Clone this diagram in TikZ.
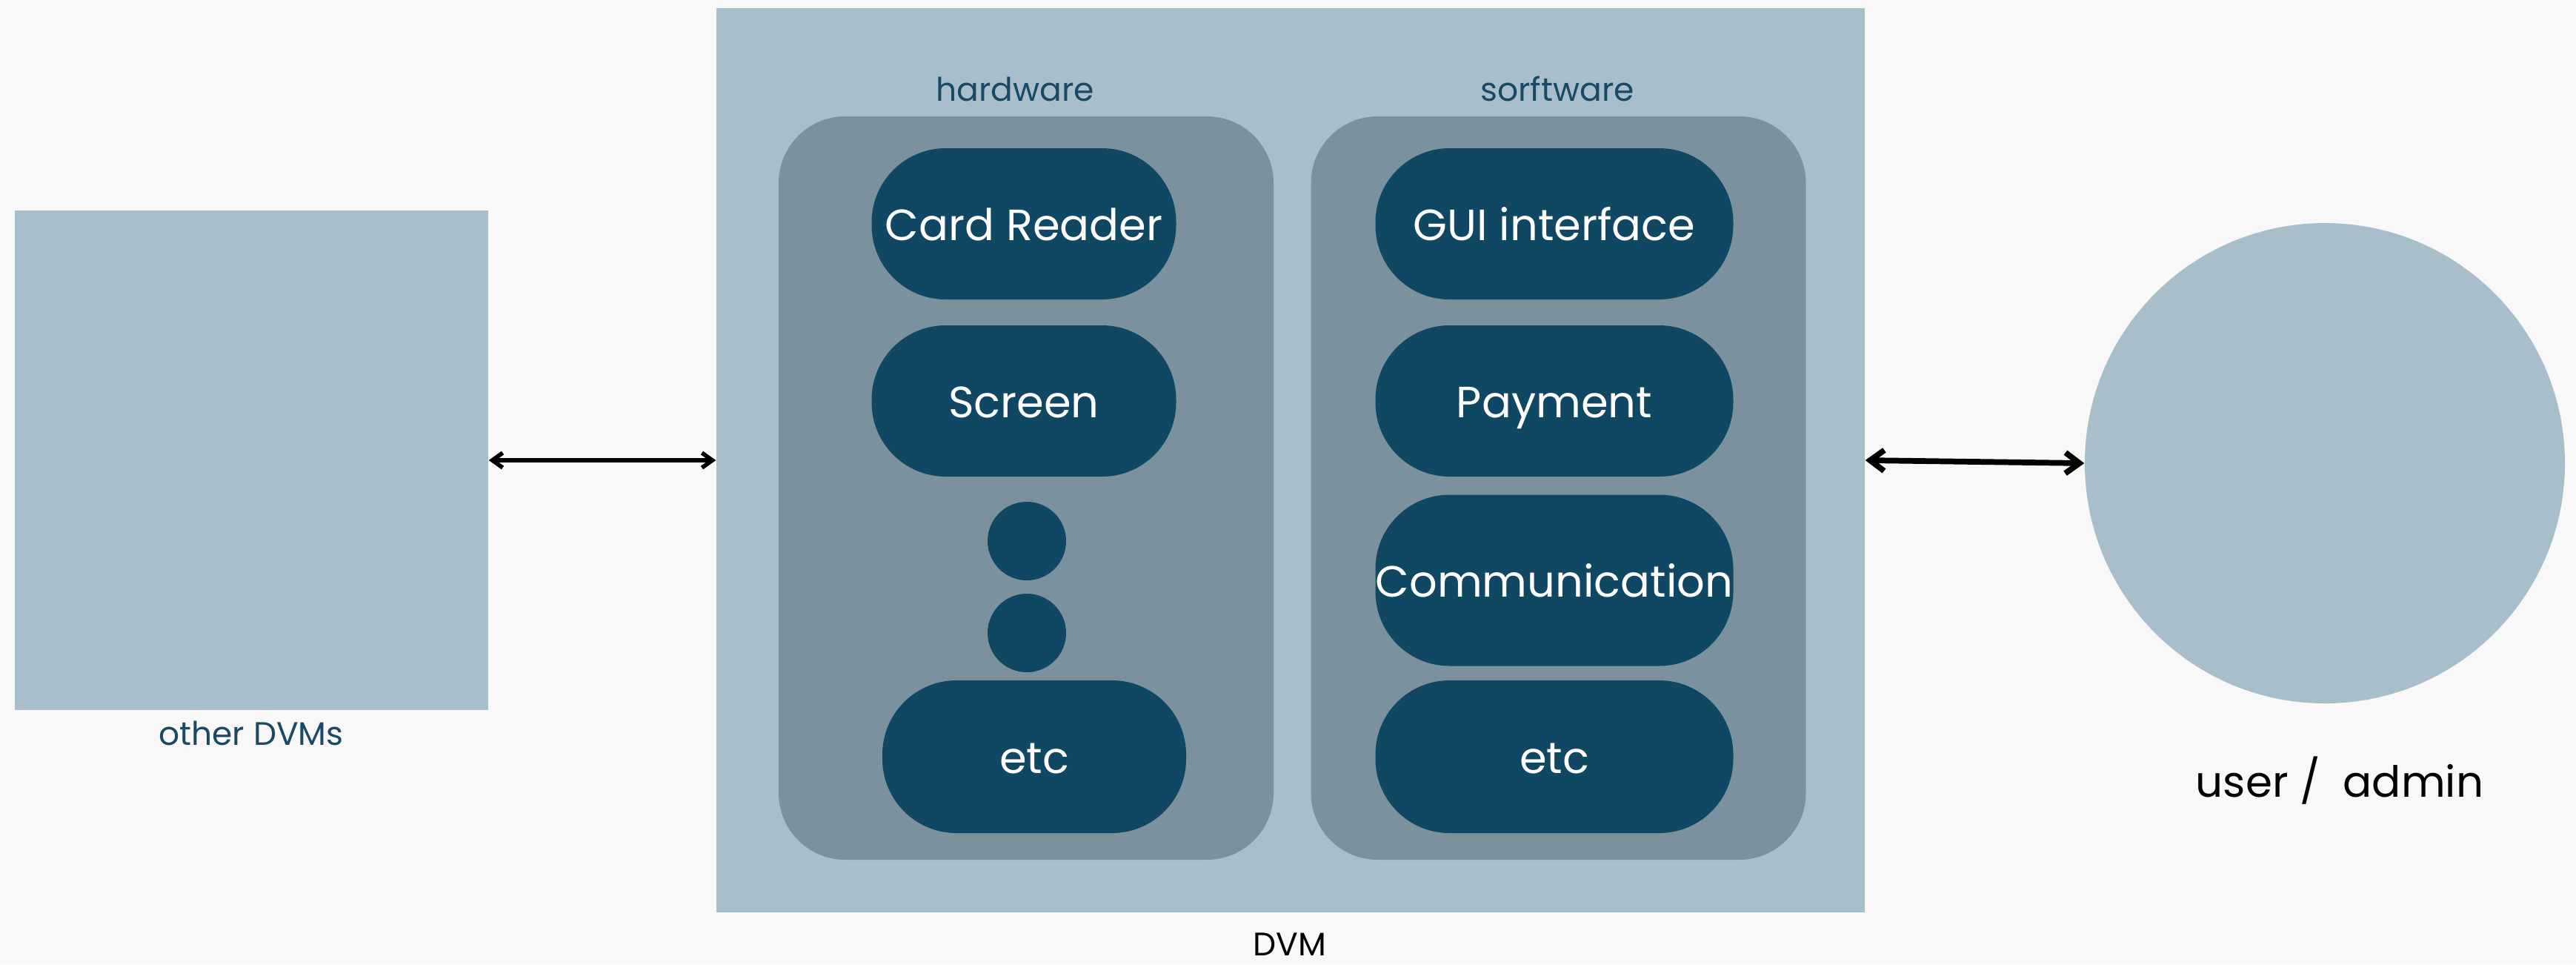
\documentclass[tikz,border=0pt]{standalone}
\usepackage{fontspec}
\setmainfont{Poppins}
\usetikzlibrary{arrows.meta}
\definecolor{bgcol}{HTML}{F8F8F8}
\definecolor{paleblue}{HTML}{A8BECB}
\definecolor{greyblue}{HTML}{7B929E}
\definecolor{navy}{HTML}{104762}
\definecolor{labelblue}{HTML}{1A4A63}
\begin{document}
\begin{tikzpicture}[line join=round, line cap=round,
	box/.style={fill=paleblue, inner sep=0pt},
	panel/.style={fill=greyblue, rounded corners=0.9cm, minimum width=6.68cm, minimum height=10.03cm, inner sep=0pt},
	pill/.style={fill=navy, text=white, rounded corners=1cm, minimum height=2.04cm, inner sep=0pt, text height=1.3em, text depth=0pt, font=\fontsize{16.8}{20}\selectfont},
	dot/.style={circle, fill=navy, minimum size=1.06cm, inner sep=0pt},
	lbl/.style={font=\fontsize{12.5}{15}\selectfont, text=labelblue},
	link/.style={{Straight Barb[length=1.4mm,width=2mm]}-{Straight Barb[length=1.4mm,width=2mm]}, line width=1.6pt},
	biglink/.style={{Straight Barb[length=1.9mm,width=2.8mm]}-{Straight Barb[length=1.9mm,width=2.8mm]}, line width=2.2pt}]
	\fill[bgcol] (0,0) rectangle (34.77,-13.01);
	\useasboundingbox (0,0) rectangle (34.77,-13.01);
	% left block and the vending machine
	\node[box, minimum width=6.39cm, minimum height=6.74cm] (oth) at (3.395,-6.21) {};
	\node[box, minimum width=15.5cm, minimum height=12.2cm] (dvm) at (17.42,-6.21) {};
	\node[panel] (hw) at (13.85,-6.585) {};
	\node[panel] (sw) at (21.035,-6.585) {};
	% hardware side
	\node[pill, minimum width=4.11cm] (card) at (13.82,-3.02) {Card Reader};
	\node[pill, minimum width=4.11cm] (scr) at (13.82,-5.41) {Screen};
	\node[dot] (dota) at (13.86,-7.30) {};
	\node[dot] (dotb) at (13.86,-8.54) {};
	\node[pill, minimum width=4.10cm, minimum height=2.06cm] (hwetc) at (13.96,-10.21) {etc};
	% software side
	\node[pill, minimum width=4.83cm] (gui) at (20.98,-3.02) {GUI interface};
	\node[pill, minimum width=4.83cm] (pay) at (20.98,-5.41) {Payment};
	\node[pill, minimum width=4.83cm, minimum height=2.31cm] (com) at (20.98,-7.83) {Communication};
	\node[pill, minimum width=4.83cm, minimum height=2.06cm] (swetc) at (20.98,-10.21) {etc};
	% user
	\node[circle, fill=paleblue, minimum size=6.48cm, inner sep=0pt] (usr) at (31.38,-6.25) {};
	\path
	(3.39,-9.89) node[lbl] (othlbl) {other DVMs}
	(13.70,-1.20) node[lbl] (hwlbl) {hardware}
	(21.02,-1.20) node[lbl] (swlbl) {sorftware}
	(17.41,-12.74) node[lbl, text=black] (dvmlbl) {DVM}
	(31.58,-10.53) node[font=\fontsize{16.5}{20}\selectfont] (usrlbl) {user /\ \ admin};
	\draw[link] (oth.east) -- (dvm.west);
	\draw[biglink] (dvm.east) -- (usr.west);
\end{tikzpicture}
\end{document}
